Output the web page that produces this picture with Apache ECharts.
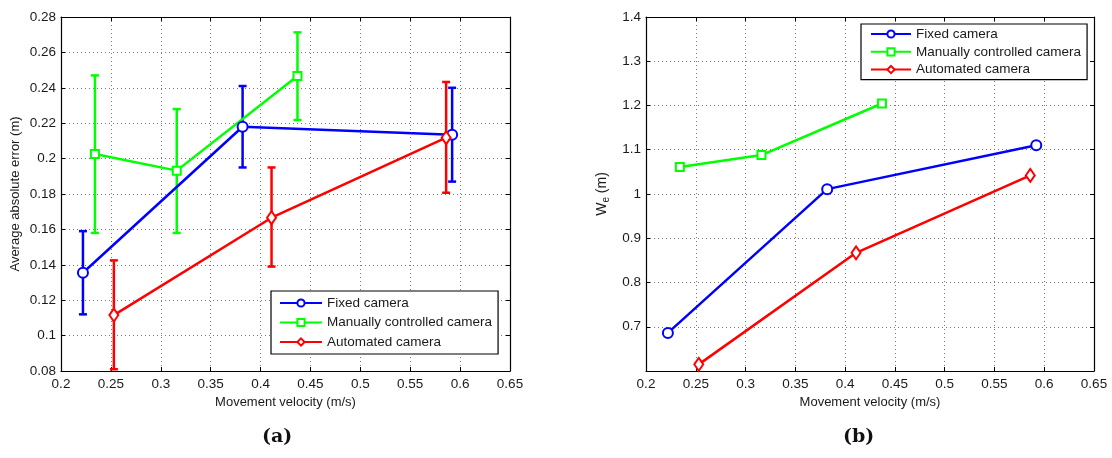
<!DOCTYPE html>
<html>
<head>
<meta charset="utf-8">
<script src="https://cdn.jsdelivr.net/npm/echarts@6/dist/echarts.min.js"></script>
<style>
  html, body { margin: 0; padding: 0; background: #fff; }
  #chart { width: 1112px; height: 458px; }
</style>
</head>
<body>
<div id="chart"></div>
<script>
// Series names
const seriesNames = ['Fixed camera', 'Manually controlled camera', 'Automated camera'];
const seriesColors = ['#0000ff', '#00ff00', '#ff0000'];

// Movement velocity (m/s) of each condition
const velFixed = [0.222, 0.382, 0.592];
const velManual = [0.234, 0.316, 0.437];
const velAuto = [0.253, 0.411, 0.586];

// (a) Average absolute error (m): mean, lower and upper error bar ends
const errFixedMean = [0.1355, 0.218, 0.2135];
const errFixedLow = [0.112, 0.195, 0.187];
const errFixedHigh = [0.159, 0.241, 0.240];

const errManualMean = [0.2026, 0.1932, 0.2467];
const errManualLow = [0.158, 0.158, 0.2218];
const errManualHigh = [0.247, 0.228, 0.2713];

const errAutoMean = [0.1116, 0.1666, 0.2118];
const errAutoLow = [0.081, 0.139, 0.1807];
const errAutoHigh = [0.1425, 0.195, 0.2433];

// (b) Effective width W_e (m)
const weFixed = [0.686, 1.011, 1.110];
const weManual = [1.061, 1.088, 1.2045];
const weAuto = [0.615, 0.867, 1.042];

// Axis ranges and tick steps
const xTicks = { min: 0.2, max: 0.65, interval: 0.05 };
const yTicksA = { min: 0.08, max: 0.28, interval: 0.02 };
const yTicksB = { min: 0.6, max: 1.4, interval: 0.1 };

const FONT = '"Liberation Sans", Arial, sans-serif';
const TEXT = '#1a1a1a';

function pairs(xs, ys) { return xs.map((x, i) => [x, ys[i]]); }
function triples(xs, lo, hi) { return xs.map((x, i) => [x, lo[i], hi[i]]); }

function fmt(v) {
  return String(Math.round(v * 1000) / 1000);
}

function errRender(params, api) {
  const x = api.value(0);
  const pLo = api.coord([x, api.value(1)]);
  const pHi = api.coord([x, api.value(2)]);
  const cap = 4;
  const style = { stroke: api.visual('color'), lineWidth: 2.5, fill: null };
  return {
    type: 'group',
    children: [
      { type: 'line', shape: { x1: pLo[0], y1: pLo[1], x2: pHi[0], y2: pHi[1] }, style },
      { type: 'line', shape: { x1: pLo[0] - cap, y1: pLo[1], x2: pLo[0] + cap, y2: pLo[1] }, style },
      { type: 'line', shape: { x1: pHi[0] - cap, y1: pHi[1], x2: pHi[0] + cap, y2: pHi[1] }, style }
    ]
  };
}

function gridLine() {
  return { show: true, lineStyle: { color: '#777', width: 1, type: [1, 3] } };
}

function mainX(gridIndex) {
  return {
    type: 'value', gridIndex, position: 'bottom',
    min: xTicks.min, max: xTicks.max, interval: xTicks.interval,
    name: 'Movement velocity (m/s)', nameLocation: 'middle', nameGap: 25,
    nameTextStyle: { fontFamily: FONT, fontSize: 13, color: TEXT },
    axisLine: { show: true, onZero: false, lineStyle: { color: '#000', width: 1.2 } },
    axisTick: { show: true, inside: true, length: 4, lineStyle: { color: '#000' } },
    axisLabel: { fontFamily: FONT, fontSize: 13.5, color: TEXT, margin: 6, formatter: fmt },
    splitLine: gridLine()
  };
}
function mirrorX(gridIndex) {
  return {
    type: 'value', gridIndex, position: 'top',
    min: xTicks.min, max: xTicks.max, interval: xTicks.interval,
    axisLine: { show: true, onZero: false, lineStyle: { color: '#000', width: 1.2 } },
    axisTick: { show: true, inside: true, length: 4, lineStyle: { color: '#000' } },
    axisLabel: { show: false },
    splitLine: { show: false }
  };
}
function mainY(gridIndex, t, name, gap, showMin, nameSize) {
  return {
    type: 'value', gridIndex, position: 'left',
    min: t.min, max: t.max, interval: t.interval,
    name, nameLocation: 'middle', nameGap: gap,
    nameTextStyle: {
      fontFamily: FONT, fontSize: nameSize, color: TEXT,
      rich: { sub: { fontFamily: FONT, fontSize: 10, color: TEXT, verticalAlign: 'bottom', padding: [7, 0, 0, 0] } }
    },
    axisLine: { show: true, onZero: false, lineStyle: { color: '#000', width: 1.2 } },
    axisTick: { show: true, inside: true, length: 4, lineStyle: { color: '#000' } },
    axisLabel: { fontFamily: FONT, fontSize: 13.5, color: TEXT, margin: 5, showMinLabel: showMin, formatter: fmt },
    splitLine: gridLine()
  };
}
function mirrorY(gridIndex, t) {
  return {
    type: 'value', gridIndex, position: 'right',
    min: t.min, max: t.max, interval: t.interval,
    axisLine: { show: true, onZero: false, lineStyle: { color: '#000', width: 1.2 } },
    axisTick: { show: true, inside: true, length: 4, lineStyle: { color: '#000' } },
    axisLabel: { show: false },
    splitLine: { show: false }
  };
}

const symbols = [
  { symbol: 'emptyCircle', symbolSize: 10 },
  { symbol: 'emptyRect', symbolSize: 8 },
  { symbol: 'emptyDiamond', symbolSize: [9, 13] }
];

function lineSeries(i, data, xi, yi) {
  return {
    type: 'line', name: seriesNames[i], xAxisIndex: xi, yAxisIndex: yi,
    data, symbol: symbols[i].symbol, symbolSize: symbols[i].symbolSize,
    showAllSymbol: true, z: 3,
    lineStyle: { color: seriesColors[i], width: 2.5 },
    itemStyle: { color: seriesColors[i], borderColor: seriesColors[i], borderWidth: 2 },
    emphasis: { disabled: true }
  };
}
function errSeries(i, data) {
  return {
    type: 'custom', name: 'err-' + i, xAxisIndex: 0, yAxisIndex: 0,
    data, renderItem: errRender, encode: { x: 0, y: [1, 2] },
    itemStyle: { color: seriesColors[i] }, clip: true, z: 2
  };
}

function legendBox(left, top, gap, pad, iconW) {
  return {
    show: true, orient: 'vertical', left, top,
    data: seriesNames, selectedMode: false,
    backgroundColor: '#fff', borderColor: '#000', borderWidth: 1.2, borderRadius: 0,
    padding: pad, itemGap: gap, itemWidth: iconW, itemHeight: 9, itemTextGap: 5,
    textStyle: { fontFamily: FONT, fontSize: 13.5, color: TEXT }
  };
}

const chart = echarts.init(document.getElementById('chart'), null, { renderer: 'canvas' });

chart.setOption({
  animation: false,
  backgroundColor: '#fff',
  grid: [
    { left: 61, top: 17, right: 602, bottom: 87, containLabel: false },
    { left: 646, top: 17, right: 18, bottom: 87, containLabel: false }
  ],
  xAxis: [mainX(0), mainX(1), mirrorX(0), mirrorX(1)],
  yAxis: [
    mainY(0, yTicksA, 'Average absolute error (m)', 39, true, 13),
    mainY(1, yTicksB, 'W{sub|e} (m)', 35, false, 14),
    mirrorY(0, yTicksA),
    mirrorY(1, yTicksB)
  ],
  legend: [
    legendBox(271, 291, 5.5, [5, 6, 5, 8], 42),
    legendBox(861, 24, 3.8, [3, 6, 3, 9], 40)
  ],
  series: [
    errSeries(0, triples(velFixed, errFixedLow, errFixedHigh)),
    errSeries(1, triples(velManual, errManualLow, errManualHigh)),
    errSeries(2, triples(velAuto, errAutoLow, errAutoHigh)),
    lineSeries(0, pairs(velFixed, errFixedMean), 0, 0),
    lineSeries(1, pairs(velManual, errManualMean), 0, 0),
    lineSeries(2, pairs(velAuto, errAutoMean), 0, 0),
    lineSeries(0, pairs(velFixed, weFixed), 1, 1),
    lineSeries(1, pairs(velManual, weManual), 1, 1),
    lineSeries(2, pairs(velAuto, weAuto), 1, 1)
  ],
  graphic: [
    {
      type: 'text', left: 262, top: 428,
      style: { text: '(a)', fontFamily: '"DejaVu Serif", "Liberation Serif", serif', fontWeight: 'bold', fontSize: 19, fill: '#111' }
    },
    {
      type: 'text', left: 843, top: 428,
      style: { text: '(b)', fontFamily: '"DejaVu Serif", "Liberation Serif", serif', fontWeight: 'bold', fontSize: 19, fill: '#111' }
    }
  ]
});
</script>
</body>
</html>
